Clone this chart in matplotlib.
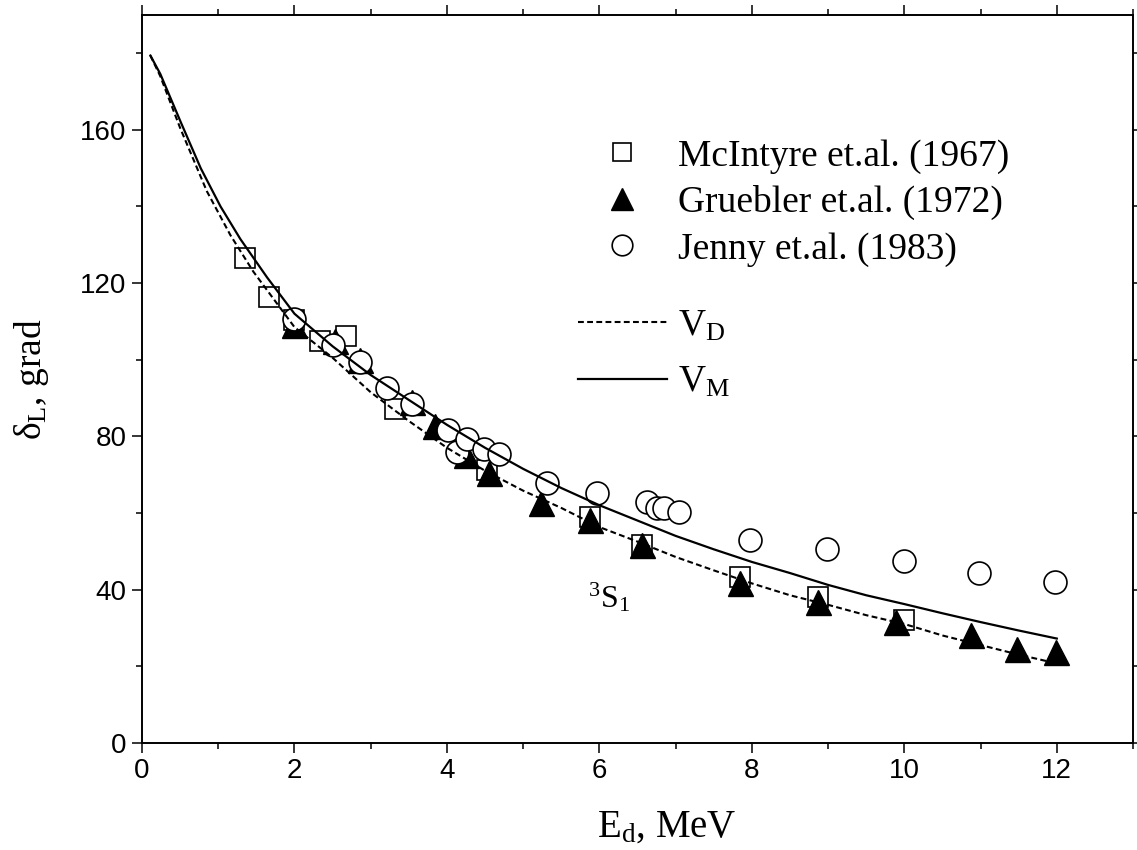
import numpy as np
import matplotlib.pyplot as plt
from matplotlib.ticker import MultipleLocator

# --- data ------------------------------------------------------------------
# McIntyre et.al. (1967)
mcintyre_e     = [1.35, 1.66, 2.00, 2.33, 2.67, 3.32, 4.53, 5.88, 6.56, 7.85, 8.87, 9.99]
mcintyre_delta = [126.5, 116.4, 110.3, 104.9, 106.1, 87.1, 71.1, 59.0, 51.6, 43.3, 38.1, 32.0]

# Gruebler et.al. (1972)
gruebler_e     = [2.00, 2.53, 2.86, 3.54, 3.84, 4.25, 4.55, 5.23, 5.88, 6.56, 7.85, 8.87,
                  9.89, 10.88, 11.48, 11.99]
gruebler_delta = [109.0, 105.0, 99.8, 89.0, 82.7, 75.0, 70.5, 62.5, 58.1, 51.6, 41.6, 36.8,
                  31.6, 28.1, 24.6, 23.7]

# Jenny et.al. (1983)
jenny_e     = [2.00, 2.51, 2.86, 3.21, 3.54, 4.02, 4.13, 4.26, 4.48, 4.68, 5.31, 5.97,
               6.63, 6.76, 6.85, 7.04, 7.98, 8.99, 9.99, 10.98, 11.98]
jenny_delta = [110.7, 103.8, 99.4, 92.5, 88.5, 81.6, 75.9, 79.4, 76.8, 75.5, 67.7, 65.1,
               62.9, 61.2, 61.2, 60.3, 52.9, 50.5, 47.5, 44.4, 42.0]

# potential curves
vd_e     = [0.11, 0.24, 0.5, 0.85, 1.16, 1.46, 2.0, 2.5, 3.0, 3.5, 4.0, 4.5, 5.0, 5.5,
            6.0, 6.5, 7.0, 7.5, 8.0, 8.5, 9.0, 9.5, 10.0, 10.5, 11.0, 11.5, 12.0]
vd_delta = [179.4, 174.0, 160.5, 144.0, 132.5, 123.0, 108.5, 100.5, 91.5, 84.0, 77.0, 71.0,
            65.8, 61.3, 56.3, 52.5, 48.5, 45.0, 41.6, 38.5, 36.0, 33.3, 31.0, 28.0, 25.5,
            23.0, 20.7]

vm_e     = [0.11, 0.24, 0.5, 0.77, 1.03, 1.29, 1.64, 2.0, 2.5, 3.0, 3.5, 4.0, 4.5, 5.0,
            5.5, 6.0, 6.5, 7.0, 7.5, 8.0, 8.5, 9.0, 9.5, 10.0, 10.5, 11.0, 11.5, 12.0]
vm_delta = [179.4, 174.6, 162.4, 150.0, 140.0, 131.5, 121.5, 112.0, 103.5, 96.0, 89.5, 83.0,
            77.0, 71.5, 66.5, 62.0, 58.0, 54.0, 50.5, 47.2, 44.3, 41.2, 38.5, 36.2, 33.8,
            31.5, 29.3, 27.2]

# --- style ------------------------------------------------------------------
plt.rcParams['mathtext.fontset'] = 'custom'
plt.rcParams['mathtext.rm'] = 'Liberation Serif'
plt.rcParams['mathtext.it'] = 'Liberation Serif:italic'
serif = 'Liberation Serif'
sans = 'Liberation Sans'

fig = plt.figure(figsize=(11.37, 8.5), dpi=100)
ax = fig.add_axes([0.1249, 0.1262, 0.8716, 0.8562])

h_sq, = ax.plot(mcintyre_e, mcintyre_delta, ls='none', marker='s', ms=14, mfc='white',
                mec='black', mew=1.2, zorder=2, label='McIntyre et.al. (1967)')
h_tr, = ax.plot(gruebler_e, gruebler_delta, ls='none', marker='^', ms=18, mfc='black',
                mec='black', mew=1.0, zorder=3, label='Gruebler et.al. (1972)')
h_ci, = ax.plot(jenny_e, jenny_delta, ls='none', marker='o', ms=16.5, mfc='white',
                mec='black', mew=1.2, zorder=4, label='Jenny et.al. (1983)')
h_vd, = ax.plot(vd_e, vd_delta, color='black', lw=1.5, ls=(0, (2.8, 1.6)), zorder=5,
                label=r'V$_\mathrm{D}$')
h_vm, = ax.plot(vm_e, vm_delta, color='black', lw=1.6, zorder=5, label=r'V$_\mathrm{M}$')

ax.text(5.85, 38, r'$^3$S$_1$', fontsize=23, family=serif, ha='left', va='center')

ax.set_xlim(0, 13)
ax.set_ylim(0, 190)
ax.xaxis.set_major_locator(MultipleLocator(2))
ax.xaxis.set_minor_locator(MultipleLocator(1))
ax.yaxis.set_major_locator(MultipleLocator(40))
ax.yaxis.set_minor_locator(MultipleLocator(20))
ax.tick_params(which='both', direction='out', top=True, right=True, width=1.1)
ax.tick_params(which='major', length=7, labelsize=20, pad=4)
ax.tick_params(which='minor', length=4)
for lbl in ax.get_xticklabels() + ax.get_yticklabels():
    lbl.set_family(sans)
for s in ax.spines.values():
    s.set_linewidth(1.4)

ax.set_xlabel(r'E$_\mathrm{d}$, MeV', fontsize=28, family=serif, x=0.53, labelpad=18)
ax.set_ylabel(r'δ$_\mathrm{L}$, grad', fontsize=27, family=serif, labelpad=21)

leg_kw = dict(loc='upper left', frameon=False, prop={'family': serif, 'size': 27},
              handlelength=2.37, handletextpad=0.3, borderpad=0, borderaxespad=0)
leg1 = ax.legend(handles=[h_sq, h_tr, h_ci], bbox_to_anchor=(0.44, 0.8295),
                 labelspacing=0.31, markerscale=0.9, **leg_kw)
ax.add_artist(leg1)
ax.legend(handles=[h_vd, h_vm], bbox_to_anchor=(0.44, 0.596),
          labelspacing=0.58, **leg_kw)

fig.savefig('out.png', dpi=100)
